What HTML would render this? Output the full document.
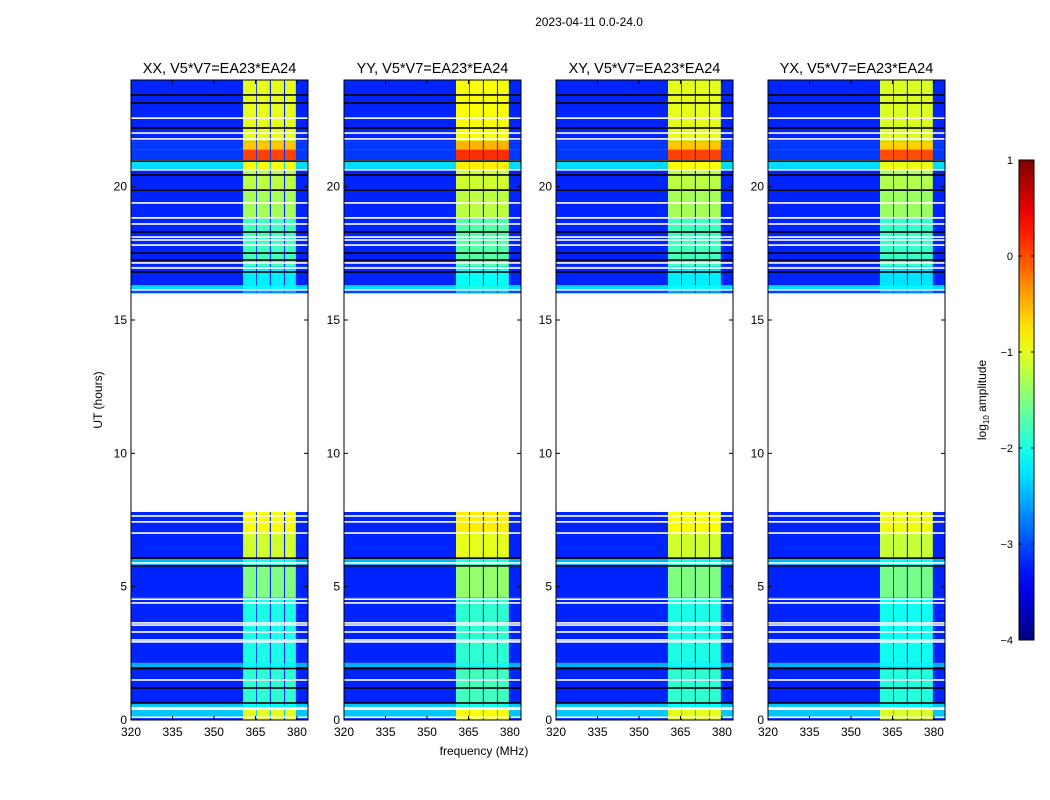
<!DOCTYPE html>
<html><head><meta charset="utf-8"><style>
body{margin:0;background:#fff;}
svg{display:block;font-family:"Liberation Sans",sans-serif;}
</style></head><body>
<svg id="fig" width="1050" height="800" viewBox="0 0 1050 800" xmlns="http://www.w3.org/2000/svg">
<text x="589" y="26" font-size="12" text-anchor="middle">2023-04-11 0.0-24.0</text>
<text x="484" y="755" font-size="12" text-anchor="middle">frequency (MHz)</text>
<text x="0" y="0" font-size="12" text-anchor="middle" transform="translate(102,400) rotate(-90)">UT (hours)</text>
<g id="panels"></g>
<g id="cbar"></g>
</svg>
<script>
// ---- data ----
const panelTitles = ["XX, V5*V7=EA23*EA24","YY, V5*V7=EA23*EA24","XY, V5*V7=EA23*EA24","YX, V5*V7=EA23*EA24"];
const panelBandOffset = [0, 0.1, 0, -0.05];
const bandEdgesMHz = [[360.5,365.2],[365.5,370.2],[370.6,375.3],[375.7,379.6]];
// [startHr, endHr, backgroundLog10, bandLog10]
const segStart = [23.44,21.7,21.38,21.0,20.66,19.9,18.8,17.0,16.3,16.13,16.0, 7.0,6.07,5.78,4.6,2.14,1.99,0.64,0.49,0.11,0.0];
const segEnd   = [24.0,23.44,21.7,21.38,20.93,20.66,19.9,18.8,17.0,16.3,16.13, 7.8,7.0,6.07,5.78,4.6,2.14,1.99,0.64,0.375,0.11];
const segBg    = [-3.2,-3.2,-3.1,-3.1,-2.3,-3.2,-3.2,-3.2,-3.2,-2.3,-3.0, -3.2,-3.2,-2.5,-3.2,-3.2,-2.5,-3.2,-2.4,-2.4,-3.2];
const segBand  = [-1.0,-1.0,-0.6,0.05,-0.9,-1.2,-1.3,-1.8,-2.2,-2.1,-2.6, -0.9,-1.1,-2.0,-1.5,-2.0,-2.1,-1.9,-2.1,-1.0,-1.0];
const whiteLines = [22.57,22.01,21.79,20.63,19.39,18.83,18.6,18.11,18.0,17.81,17.14,16.95,16.13,7.65,7.43,7.01,5.89,4.53,4.39,3.64,3.56,3.3,3.0,2.93,1.5,0.45,0.1];
const blackLines = [23.44,23.14,22.2,20.96,20.44,19.87,18.3,17.51,17.25,16.8,6.07,5.78,1.93,1.2,0.64];
const xTicks = [320,335,350,365,380];
const yTicks = [0,5,10,15,20];
const cbarTicks = [1,0,-1,-2,-3,-4];

// ---- layout ----
const panelLeft = [131,344,556,768];
const PW = 177, PT = 80, PB = 720;
const F0 = 320, F1 = 384, T0 = 0, T1 = 24;
const NS = "http://www.w3.org/2000/svg";
function jet(v){
  let t = Math.max(0, Math.min(1, (v + 4) / 5));
  const c = x => Math.round(255 * Math.max(0, Math.min(1, x)));
  return `rgb(${c(1.5-Math.abs(4*t-3))},${c(1.5-Math.abs(4*t-2))},${c(1.5-Math.abs(4*t-1))})`;
}
function mk(tag, attrs, parent){
  const e = document.createElementNS(NS, tag);
  for (const k in attrs) e.setAttribute(k, attrs[k]);
  parent.appendChild(e); return e;
}
const panels = document.getElementById('panels');
panelTitles.forEach((title, p) => {
  const L = panelLeft[p];
  const xs = f => L + (f - F0) / (F1 - F0) * PW;
  const ys = h => PB - (h - T0) / (T1 - T0) * (PB - PT);
  const g = mk('g', {}, panels);
  
  
  for (let i = 0; i < segStart.length; i++) {
    const y0 = ys(segEnd[i]), y1 = ys(segStart[i]);
    const r = mk('rect', {x: L, y: y0, width: PW, height: y1 - y0, fill: jet(segBg[i])}, g);
    
    
    bandEdgesMHz.forEach(b => {
      const br = mk('rect', {x: xs(b[0]), y: y0, width: xs(b[1]) - xs(b[0]), height: y1 - y0, fill: jet(segBand[i] + panelBandOffset[p])}, g);
      
      
    });
  }
  whiteLines.forEach(h => {
    const l = mk('rect', {x: L, y: ys(h) - 0.8, width: PW, height: 1.6, fill: '#fff'}, g);
    
    
  });
  blackLines.forEach(h => {
    const l = mk('rect', {x: L, y: ys(h) - 0.8, width: PW, height: 1.6, fill: '#000'}, g);
    
    
  });
  const fr = mk('rect', {x: L, y: PT, width: PW, height: PB - PT, fill: 'none', stroke: '#000', 'stroke-width': 1}, g);
  
  
  const tt = mk('text', {x: L + PW / 2, y: 73, 'font-size': 14.5, 'text-anchor': 'middle'}, g);
  tt.textContent = title;
  
  
  xTicks.forEach(f => {
    mk('line', {x1: xs(f), x2: xs(f), y1: PB, y2: PB - 4, stroke: '#000'}, g);
    mk('line', {x1: xs(f), x2: xs(f), y1: PT, y2: PT + 4, stroke: '#000'}, g);
    const t = mk('text', {x: xs(f), y: 736, 'font-size': 12, 'text-anchor': 'middle'}, g);
    t.textContent = f;
    
    
  });
  yTicks.forEach(h => {
    mk('line', {x1: L, x2: L + 4, y1: ys(h), y2: ys(h), stroke: '#000'}, g);
    mk('line', {x1: L + PW, x2: L + PW - 4, y1: ys(h), y2: ys(h), stroke: '#000'}, g);
    const t = mk('text', {x: L - 4, y: ys(h) + 4, 'font-size': 12, 'text-anchor': 'end'}, g);
    t.textContent = h;
    
    
  });
});
// colorbar
const cb = document.getElementById('cbar');


const defs = mk('defs', {}, cb);
const grad = mk('linearGradient', {id: 'jetg', x1: 0, y1: 1, x2: 0, y2: 0}, defs);
for (let i = 0; i <= 20; i++) mk('stop', {offset: i / 20, 'stop-color': jet(-4 + 5 * i / 20)}, grad);
const CBT = 160, CBB = 640, CBL = 1019, CBW = 15;
const cy = v => CBB - (v + 4) / 5 * (CBB - CBT);
mk('rect', {x: CBL, y: CBT, width: CBW, height: CBB - CBT, fill: 'url(#jetg)', stroke: '#000', 'stroke-width': 1}, cb);
cbarTicks.forEach(v => {
  mk('line', {x1: CBL, x2: CBL + 3, y1: cy(v), y2: cy(v), stroke: '#000'}, cb);
  mk('line', {x1: CBL + CBW, x2: CBL + CBW - 3, y1: cy(v), y2: cy(v), stroke: '#000'}, cb);
  const t = mk('text', {x: 1013, y: cy(v) + 4, 'font-size': 11, 'text-anchor': 'end'}, cb);
  t.textContent = v < 0 ? '\u2212' + (-v) : String(v);
  
  
});
const ct = mk('text', {'font-size': 12, 'text-anchor': 'middle', transform: 'translate(986,400) rotate(-90)'}, cb);
ct.innerHTML = 'log<tspan font-size="8" dy="3">10</tspan><tspan dy="-3"> amplitude</tspan>';


</script>
</body></html>
